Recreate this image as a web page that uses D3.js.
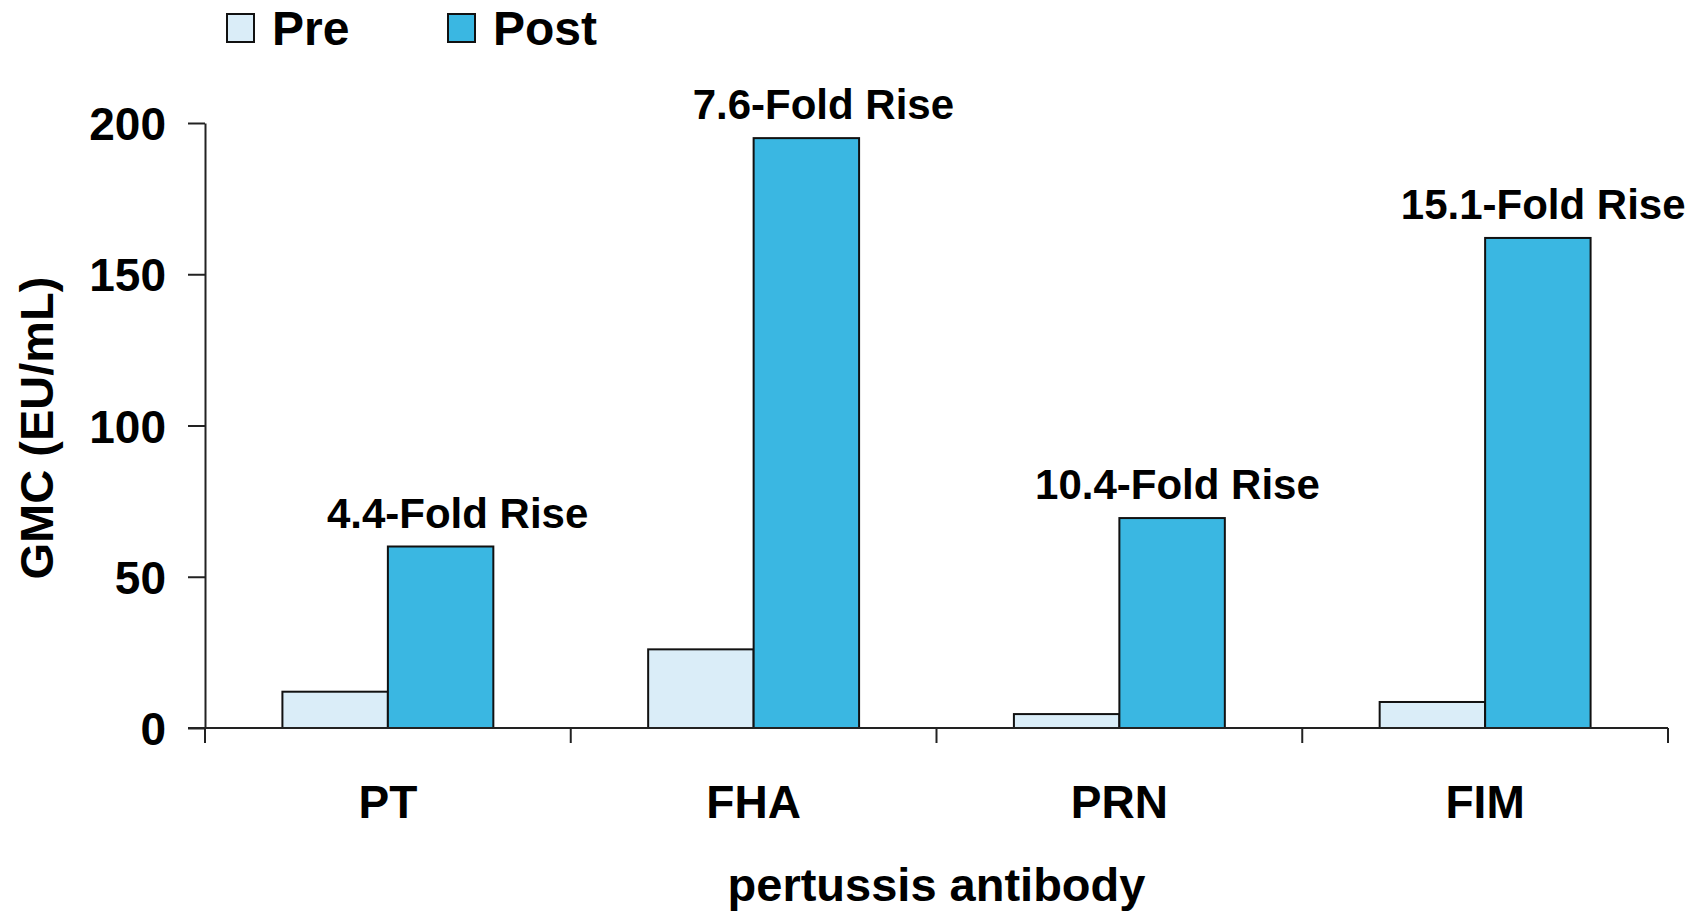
<!DOCTYPE html>
<html>
<head>
<meta charset="utf-8">
<script src="https://cdn.jsdelivr.net/npm/d3@7"></script>
<style>
  body { margin: 0; background: #fff; }
  text { font-family: "Liberation Sans", Arial, sans-serif; font-weight: bold; fill: #000; }
</style>
</head>
<body>
<script>
// data
var categories = ["PT", "FHA", "PRN", "FIM"];
var series = ["Pre", "Post"];
var preValues = [12, 26, 4.6, 8.6];
var postValues = [60, 195, 69.4, 162];
var foldLabels = ["4.4-Fold Rise", "7.6-Fold Rise", "10.4-Fold Rise", "15.1-Fold Rise"];
var yTicks = [0, 50, 100, 150, 200];

var width = 1702, height = 913;
var margin = {top: 123, right: 34, bottom: 185, left: 205};
var colors = {Pre: "#daedf8", Post: "#3ab7e2"};

var svg = d3.select("body")
    .append("svg")
        .attr("width", width)
        .attr("height", height);

var x0 = d3.scaleBand()
    .domain(categories)
    .range([margin.left, width - margin.right])
    .paddingInner(0)
    .paddingOuter(0);

var x1 = d3.scaleBand()
    .domain(series)
    .range([0, x0.bandwidth()])
    .paddingInner(0)
    .paddingOuter(0.734);

var y = d3.scaleLinear()
    .domain([0, 200])
    .range([height - margin.bottom, margin.top]);

var rows = categories.map(function(c, i) {
    return {cat: c, Pre: preValues[i], Post: postValues[i], label: foldLabels[i]};
});

// y axis
var yAxis = svg.append("g")
    .attr("transform", "translate(" + margin.left + ",0)")
    .call(d3.axisLeft(y).tickValues(yTicks).tickSize(17).tickPadding(22).tickSizeOuter(0));
yAxis.select(".domain").attr("stroke", "#222").attr("stroke-width", 2);
yAxis.selectAll(".tick line").attr("stroke", "#222").attr("stroke-width", 2);
yAxis.selectAll(".tick text")
    .attr("font-size", "46px")
    .attr("font-family", "Liberation Sans, Arial, sans-serif")
    .attr("font-weight", "bold")
    .attr("fill", "#000")
    .attr("dy", "0.36em");

// bars
var groups = svg.selectAll(".grp")
    .data(rows)
    .enter().append("g")
        .attr("class", "grp")
        .attr("transform", function(d) { return "translate(" + x0(d.cat) + ",0)"; });

groups.selectAll("rect")
    .data(function(d) { return series.map(function(s) { return {key: s, value: d[s]}; }); })
    .enter().append("rect")
        .attr("x", function(d) { return x1(d.key); })
        .attr("y", function(d) { return y(d.value); })
        .attr("width", x1.bandwidth())
        .attr("height", function(d) { return y(0) - y(d.value); })
        .style("fill", function(d) { return colors[d.key]; })
        .style("stroke", "#111")
        .style("stroke-width", 2);

// fold labels, right aligned past the post bar
groups.append("text")
    .text(function(d) { return d.label; })
    .attr("x", x1("Post") + x1.bandwidth() + 95)
    .attr("y", function(d) { return y(d.Post) - 19; })
    .attr("text-anchor", "end")
    .attr("font-size", "42px");

// x axis line + boundary ticks
var bounds = categories.map(function(c) { return x0(c); }).concat([x0.range()[1]]);
svg.append("line")
    .attr("x1", margin.left - 17)
    .attr("x2", x0.range()[1])
    .attr("y1", y(0))
    .attr("y2", y(0))
    .style("stroke", "#222")
    .style("stroke-width", 2);
svg.selectAll(".xtick")
    .data(bounds)
    .enter().append("line")
        .attr("class", "xtick")
        .attr("x1", function(d) { return d; })
        .attr("x2", function(d) { return d; })
        .attr("y1", y(0))
        .attr("y2", y(0) + 15)
        .style("stroke", "#222")
        .style("stroke-width", 2);

svg.selectAll(".xlab")
    .data(categories)
    .enter().append("text")
        .attr("class", "xlab")
        .text(function(d) { return d; })
        .attr("x", function(d) { return x0(d) + x0.bandwidth() / 2; })
        .attr("y", 818)
        .attr("text-anchor", "middle")
        .attr("font-size", "46px");

// axis titles
svg.append("text")
    .text("pertussis antibody")
    .attr("x", (margin.left + x0.range()[1]) / 2)
    .attr("y", 901)
    .attr("text-anchor", "middle")
    .attr("font-size", "47px");

svg.append("text")
    .text("GMC (EU/mL)")
    .attr("transform", "translate(53,428) rotate(-90)")
    .attr("text-anchor", "middle")
    .attr("font-size", "47px");

// legend
var legendX = [227, 448];
var legend = svg.selectAll(".leg")
    .data(series)
    .enter().append("g")
        .attr("class", "leg")
        .attr("transform", function(d, i) { return "translate(" + legendX[i] + ",14)"; });
legend.append("rect")
    .attr("width", 27)
    .attr("height", 28)
    .style("fill", function(d) { return colors[d]; })
    .style("stroke", "#111")
    .style("stroke-width", 2);
legend.append("text")
    .text(function(d) { return d; })
    .attr("x", 45)
    .attr("y", 31)
    .attr("font-size", "48px");
</script>
</body>
</html>
